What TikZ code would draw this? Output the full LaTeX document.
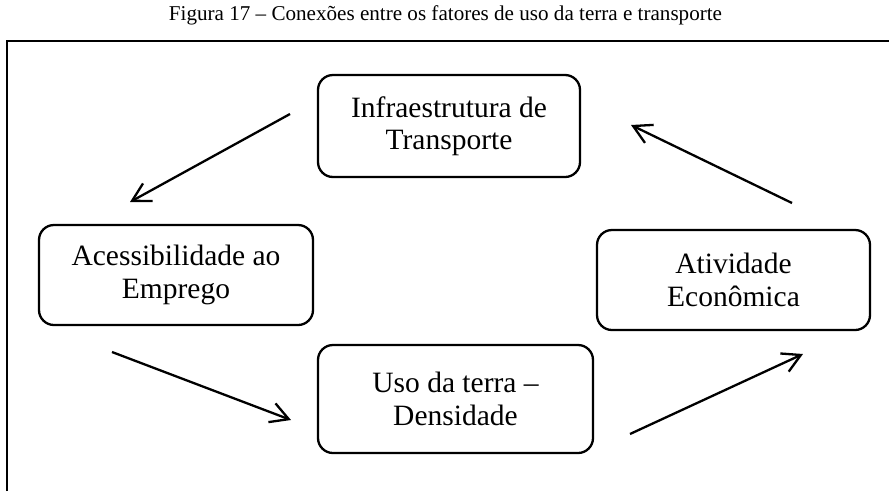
\documentclass[tikz,border=0pt]{standalone}
\usepackage{fontspec}
\setmainfont{Liberation Serif}
\usetikzlibrary{arrows.meta}
\begin{document}
\begin{tikzpicture}[x=1pt,y=-1pt,
  box/.style={draw,line width=2.3pt,rounded corners=15pt,align=center,
    inner sep=0pt,font=\fontsize{29.5}{32.5}\selectfont},
  arr/.style={line width=2.3pt,-{Straight Barb[length=18pt,width=20pt]}},
  frame/.style={line width=2.2pt}]
\useasboundingbox (0,0) rectangle (889,491);
\node[font=\fontsize{21.1}{24}\selectfont] (title) at (445.5,15) {Figura 17 -- Conexões entre os fatores de uso da terra e transporte};
\draw[frame] (7,491) -- (7,41) -- (889,41);
\node[box,minimum width=262pt,minimum height=102pt] (infra) at (449,126) {Infraestrutura de\\Transporte};
\node[box,minimum width=274pt,minimum height=100pt] (acess) at (176,275) {Acessibilidade ao\\Emprego};
\node[box,minimum width=273pt,minimum height=100pt] (ativ) at (733.5,280) {Atividade\\Econômica};
\node[box,minimum width=275pt,minimum height=108pt] (uso) at (455.5,399) {Uso da terra --\\Densidade};
\coordinate (a1s) at (290,114); \coordinate (a1e) at (130,202);
\coordinate (a2s) at (112,352); \coordinate (a2e) at (291,420);
\coordinate (a3s) at (630,434); \coordinate (a3e) at (803,354);
\coordinate (a4s) at (792,203); \coordinate (a4e) at (631,125);
\draw[arr] (a1s) -- (a1e);
\draw[arr] (a2s) -- (a2e);
\draw[arr] (a3s) -- (a3e);
\draw[arr] (a4s) -- (a4e);
\end{tikzpicture}
\end{document}
